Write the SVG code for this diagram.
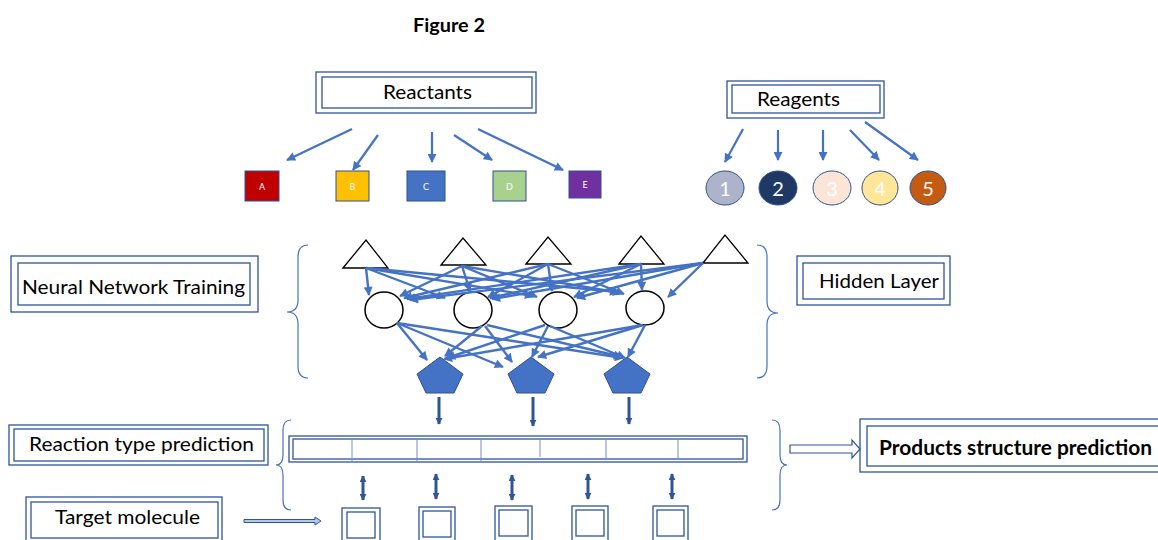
<svg xmlns="http://www.w3.org/2000/svg" width="1158" height="540" viewBox="0 0 1158 540">
<style>
text{font-family:Lato,"Liberation Sans",sans-serif;fill:#000}
.lbl{font-size:20px}
.b{font-weight:bold}
.box{fill:#fff;stroke:#2F5597;stroke-width:1.3}
.in{fill:none;stroke:#2F5597;stroke-width:1.3}
.ar{stroke:#4472C4;stroke-width:2.2;fill:none;marker-end:url(#ah)}
.nn{stroke:#4472C4;stroke-width:2.4;fill:none;marker-end:url(#ah)}
.dk{stroke:#2F5597;stroke-width:3;fill:none;marker-end:url(#ahd)}
.dd{stroke:#2F5597;stroke-width:3;fill:none;marker-end:url(#ahd);marker-start:url(#ahd)}
.brace{fill:none;stroke:#4472C4;stroke-width:1.2}
.sq{stroke:#2F528F;stroke-width:1}
.sqt{font-size:9px;fill:#fff;text-anchor:middle}
.ct{font-size:20px;fill:#fff;text-anchor:middle}
.tri{fill:#fff;stroke:#000;stroke-width:1.3}
.cir{fill:#fff;stroke:#000;stroke-width:1.5}
.pent{fill:#4472C4;stroke:#2F528F;stroke-width:1}
.div{stroke:#6F8FD0;stroke-width:1}
</style>
<defs>
<marker id="ah" viewBox="0 0 10 10" refX="9" refY="5" markerWidth="10" markerHeight="9" markerUnits="userSpaceOnUse" orient="auto"><path d="M0,0 L10,5 L0,10 z" fill="#4472C4"/></marker>
<marker id="ahd" viewBox="0 0 10 10" refX="9" refY="5" markerWidth="7" markerHeight="7" markerUnits="userSpaceOnUse" orient="auto-start-reverse"><path d="M0,0 L10,5 L0,10 z" fill="#2F5597"/></marker>
</defs>
<rect width="1158" height="540" fill="#fff"/>

<text x="449" y="32" class="b" font-size="18" text-anchor="middle" textLength="72" lengthAdjust="spacingAndGlyphs">Figure 2</text>

<g id="reactants">
<rect x="316" y="72" width="220" height="41" class="box"/>
<rect x="322" y="77" width="210" height="31" class="in"/>
<text x="383" y="99" class="lbl" textLength="89" lengthAdjust="spacingAndGlyphs">Reactants</text>
</g>
<g id="reagents">
<rect x="727" y="81" width="157" height="37" class="box"/>
<rect x="732" y="85" width="148" height="28" class="in"/>
<text x="757" y="106" class="lbl" textLength="83" lengthAdjust="spacingAndGlyphs">Reagents</text>
</g>

<g id="sqA"><rect x="245" y="171" width="34" height="30" fill="#C00000" class="sq"/><text x="262" y="190" class="sqt">A</text></g>
<g id="sqB"><rect x="336" y="171" width="33" height="30" fill="#FFC000" class="sq"/><text x="352.5" y="190" class="sqt">B</text></g>
<g id="sqC"><rect x="407" y="171" width="38" height="30" fill="#4472C4" class="sq"/><text x="426" y="190" class="sqt">C</text></g>
<g id="sqD"><rect x="493" y="171" width="33" height="30" fill="#A9D18E" class="sq"/><text x="509.5" y="190" class="sqt">D</text></g>
<g id="sqE"><rect x="569" y="171" width="32" height="27" fill="#7030A0" class="sq"/><text x="585" y="188" class="sqt">E</text></g>

<g id="rg1"><ellipse cx="725" cy="188" rx="19" ry="17" fill="#ADB3CA" stroke="#2F528F"/><text x="725" y="196" class="ct">1</text></g>
<g id="rg2"><ellipse cx="778" cy="188" rx="19" ry="17" fill="#203864" stroke="#2F528F"/><text x="778" y="196" class="ct">2</text></g>
<g id="rg3"><ellipse cx="832" cy="188" rx="19" ry="17" fill="#FBE5D6" stroke="#2F528F"/><text x="832" y="196" class="ct">3</text></g>
<g id="rg4"><ellipse cx="880" cy="188" rx="18" ry="17" fill="#FFE699" stroke="#2F528F"/><text x="880" y="196" class="ct">4</text></g>
<g id="rg5"><ellipse cx="928" cy="188" rx="18" ry="17" fill="#C55A11" stroke="#2F528F"/><text x="928" y="196" class="ct">5</text></g>

<g id="nnt">
<rect x="11" y="256" width="247" height="56" class="box"/>
<rect x="18" y="263" width="232" height="42" class="in"/>
<text x="22" y="294" class="lbl" textLength="223" lengthAdjust="spacingAndGlyphs">Neural Network Training</text>
</g>
<g id="hidden">
<rect x="797" y="256" width="153" height="49" class="box"/>
<rect x="803" y="263" width="141" height="36" class="in"/>
<text x="819" y="288" class="lbl" textLength="120" lengthAdjust="spacingAndGlyphs">Hidden Layer</text>
</g>
<g id="rtp">
<rect x="9" y="425" width="259" height="40" class="box"/>
<rect x="14" y="429" width="250" height="32" class="in"/>
<text x="29" y="451" class="lbl" textLength="225" lengthAdjust="spacingAndGlyphs">Reaction type prediction</text>
</g>
<g id="target">
<rect x="26" y="497" width="196" height="44" class="box"/>
<rect x="31" y="502" width="187" height="36" class="in"/>
<text x="55" y="524" class="lbl" textLength="145" lengthAdjust="spacingAndGlyphs">Target molecule</text>
</g>
<g id="products">
<rect x="860" y="419" width="300" height="53" class="box"/>
<rect x="867" y="426" width="295" height="40" class="in"/>
<text x="879" y="455" class="lbl b" textLength="273" lengthAdjust="spacingAndGlyphs">Products structure prediction</text>
</g>

<g id="inputs">
<polygon points="343,268 366,240 388,268" class="tri"/>
<polygon points="441,265 463,238 486,265" class="tri"/>
<polygon points="526,264 548,237 571,264" class="tri"/>
<polygon points="619,264 641,236 664,264" class="tri"/>
<polygon points="703,263 725,235 748,263" class="tri"/>
</g>
<g id="hiddenNodes">
<ellipse cx="384" cy="310" rx="19" ry="18" class="cir"/>
<ellipse cx="473" cy="310" rx="19" ry="18" class="cir"/>
<ellipse cx="558" cy="310" rx="19" ry="18" class="cir"/>
<ellipse cx="645" cy="308" rx="19" ry="17" class="cir"/>
</g>
<g id="outputs">
<polygon points="440,357 463,374 454,393 426,393 417,374" class="pent"/>
<polygon points="531,357 554,374 545,393 517,393 508,374" class="pent"/>
<polygon points="627,357 650,374 641,393 613,393 604,374" class="pent"/>
</g>

<g id="bar">
<rect x="289" y="436" width="458" height="26" class="box"/>
<rect x="293" y="439" width="450" height="20" class="in"/>
<line x1="352" y1="439" x2="352" y2="461" class="div"/>
<line x1="417" y1="439" x2="417" y2="461" class="div"/>
<line x1="481" y1="439" x2="481" y2="461" class="div"/>
<line x1="540" y1="439" x2="540" y2="457" class="div"/>
<line x1="606" y1="439" x2="606" y2="459" class="div"/>
<line x1="678" y1="439" x2="678" y2="459" class="div"/>
</g>

<g id="molecules">
<rect x="342" y="508" width="38" height="36" class="box"/><rect x="347" y="512" width="28" height="26" class="in"/>
<rect x="419" y="507" width="36" height="37" class="box"/><rect x="423" y="511" width="28" height="26" class="in"/>
<rect x="495" y="506" width="37" height="38" class="box"/><rect x="499" y="510" width="29" height="26" class="in"/>
<rect x="572" y="506" width="36" height="38" class="box"/><rect x="576" y="510" width="28" height="26" class="in"/>
<rect x="653" y="506" width="35" height="38" class="box"/><rect x="657" y="510" width="27" height="26" class="in"/>
</g>

<g id="braces">
<path d="M308,245 Q298,245 298,257 L298,300 Q298,312 287,312 Q298,312 298,324 L298,366 Q298,378 308,378" class="brace"/>
<path d="M757,245 Q767,245 767,257 L767,301 Q767,313 778,313 Q767,313 767,325 L767,366 Q767,378 757,378" class="brace"/>
<path d="M291,420 Q283,420 283,430 L283,455 Q283,465 276,465 Q283,465 283,475 L283,500 Q283,510 291,510" class="brace"/>
<path d="M772,420 Q780,420 780,430 L780,455 Q780,465 787,465 Q780,465 780,475 L780,500 Q780,510 772,510" class="brace"/>
</g>

<g id="connectors">
<line x1="352" y1="129" x2="287" y2="160" class="ar"/>
<line x1="378" y1="135" x2="353" y2="170" class="ar"/>
<line x1="432" y1="132" x2="432" y2="162" class="ar"/>
<line x1="454" y1="135" x2="492" y2="160" class="ar"/>
<line x1="478" y1="129" x2="563" y2="170" class="ar"/>
<line x1="743" y1="129" x2="725" y2="162" class="ar"/>
<line x1="778" y1="130" x2="778" y2="160" class="ar"/>
<line x1="823" y1="130" x2="823" y2="160" class="ar"/>
<line x1="850" y1="130" x2="879" y2="160" class="ar"/>
<line x1="865" y1="122" x2="918" y2="160" class="ar"/>

<line x1="366" y1="268" x2="369" y2="295" class="nn"/>
<line x1="366" y1="268" x2="445" y2="298" class="nn"/>
<line x1="366" y1="268" x2="533" y2="296" class="nn"/>
<line x1="366" y1="268" x2="618" y2="292" class="nn"/>
<line x1="462" y1="266" x2="400" y2="296" class="nn"/>
<line x1="462" y1="266" x2="470" y2="291" class="nn"/>
<line x1="462" y1="266" x2="537" y2="297" class="nn"/>
<line x1="462" y1="266" x2="621" y2="293" class="nn"/>
<line x1="548" y1="264" x2="404" y2="298" class="nn"/>
<line x1="548" y1="264" x2="488" y2="297" class="nn"/>
<line x1="548" y1="264" x2="552" y2="291" class="nn"/>
<line x1="548" y1="264" x2="624" y2="294" class="nn"/>
<line x1="641" y1="264" x2="407" y2="299" class="nn"/>
<line x1="641" y1="264" x2="490" y2="298" class="nn"/>
<line x1="641" y1="264" x2="574" y2="297" class="nn"/>
<line x1="641" y1="264" x2="642" y2="290" class="nn"/>
<line x1="703" y1="263" x2="410" y2="300" class="nn"/>
<line x1="703" y1="263" x2="492" y2="299" class="nn"/>
<line x1="703" y1="263" x2="577" y2="298" class="nn"/>
<line x1="703" y1="263" x2="668" y2="297" class="nn"/>

<line x1="397" y1="323" x2="427" y2="360" class="nn"/>
<line x1="397" y1="323" x2="503" y2="367" class="nn"/>
<line x1="397" y1="323" x2="623" y2="358" class="nn"/>
<line x1="482" y1="326" x2="445" y2="356" class="nn"/>
<line x1="485" y1="326" x2="512" y2="362" class="nn"/>
<line x1="487" y1="325" x2="622" y2="357" class="nn"/>
<line x1="545" y1="325" x2="447" y2="358" class="nn"/>
<line x1="548" y1="326" x2="532" y2="357" class="nn"/>
<line x1="550" y1="326" x2="625" y2="358" class="nn"/>
<line x1="643" y1="325" x2="444" y2="359" class="nn"/>
<line x1="643" y1="325" x2="538" y2="357" class="nn"/>
<line x1="645" y1="325" x2="628" y2="357" class="nn"/>

<line x1="439" y1="397" x2="439" y2="424" class="dk"/>
<line x1="533" y1="397" x2="533" y2="426" class="dk"/>
<line x1="629" y1="397" x2="629" y2="424" class="dk"/>

<line x1="363" y1="476" x2="363" y2="500" class="dd"/>
<line x1="436" y1="474" x2="436" y2="499" class="dd"/>
<line x1="512" y1="475" x2="512" y2="500" class="dd"/>
<line x1="588" y1="474" x2="588" y2="499" class="dd"/>
<line x1="672" y1="474" x2="672" y2="499" class="dd"/>

<polygon points="244,519.5 315,519.5 315,517 321,521 315,525 315,522.5 244,522.5" fill="#B4C7E7" stroke="#2F5597" stroke-width="1"/>
<polygon points="790,445 852,445 852,440 860,449 852,458 852,453 790,453" fill="#fff" stroke="#2F5597" stroke-width="1.2"/>
</g>
</svg>
